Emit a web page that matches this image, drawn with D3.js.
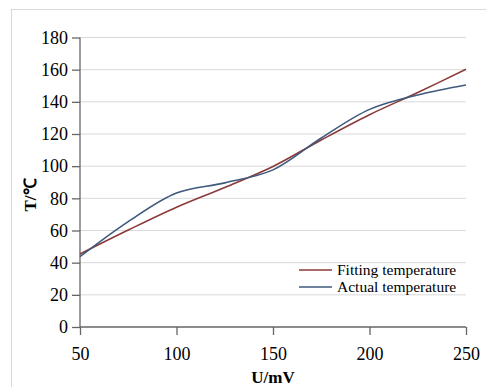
<!DOCTYPE html>
<html><head><meta charset="utf-8">
<script src="https://cdn.jsdelivr.net/npm/d3@7"></script>
<style>body{margin:0;background:#fff}svg{display:block}text{font-family:"Liberation Serif","Times New Roman",serif;fill:#000}</style>
</head><body>
<script>
const voltages = [50, 75, 100, 125, 150, 175, 200, 225, 250];
const fitting = [45.4, 60.3, 74.5, 86.8, 99.8, 116.3, 132.0, 145.8, 160.2];
const actual = [43.7, 65.5, 83.3, 89.6, 97.7, 117.5, 135.3, 144.3, 150.5];
const xTicks = [50, 100, 150, 200, 250];
const yTicks = [0, 20, 40, 60, 80, 100, 120, 140, 160, 180];
const seriesNames = ["Fitting temperature", "Actual temperature"];
const colors = ["#8a3a3a", "#3f5a7d"];

const W = 486, H = 387;
const svg = d3.select("body").append("svg").attr("width", W).attr("height", H);
svg.append("rect").attr("x", 11.5).attr("y", 9.5).attr("width", 490).attr("height", 400)
  .attr("fill", "none").attr("stroke", "#d9d9d9");

const x = d3.scaleLinear().domain([50, 250]).range([80, 466]);
const y = d3.scaleLinear().domain([0, 180]).range([327, 37.5]);

svg.append("g").selectAll("line").data(yTicks.filter(d => d > 0)).join("line")
  .attr("x1", 80).attr("x2", 466).attr("y1", d => y(d)).attr("y2", d => y(d))
  .attr("stroke", "#d9d9d9").attr("stroke-width", 1);

const yAxis = svg.append("g").attr("transform", "translate(80,0)")
  .call(d3.axisLeft(y).tickValues(yTicks).tickSize(8).tickPadding(4));
const xAxis = svg.append("g").attr("transform", "translate(0,327)")
  .call(d3.axisBottom(x).tickValues(xTicks).tickSize(8).tickPadding(12));
[yAxis, xAxis].forEach(g => {
  g.attr("font-family", "Liberation Serif").attr("font-size", 18);
  g.select(".domain").attr("stroke", "#666").attr("stroke-width", 1.3);
  g.selectAll(".tick line").attr("stroke", "#666").attr("stroke-width", 1.3);
  g.selectAll("text").style("font-family", "'Liberation Serif', serif").style("font-size", "18px").attr("fill", "#000");
});
xAxis.select(".domain").attr("d", "M80,0H466");
yAxis.select(".domain").attr("d", "M0,37.5V327");

const line = d3.line().x((d, i) => x(voltages[i])).y(d => y(d)).curve(d3.curveCatmullRom.alpha(0.5));
[fitting, actual].forEach((s, k) => {
  svg.append("path").attr("d", line(s)).attr("fill", "none")
    .attr("stroke", colors[k]).attr("stroke-width", 1.6);
});

svg.append("text").attr("x", 273).attr("y", 383).attr("text-anchor", "middle")
  .style("font-weight", "bold").style("font-size", "17px").text("U/mV");
svg.append("text").attr("transform", "translate(36,195) rotate(-90)").attr("text-anchor", "middle")
  .style("font-weight", "bold").style("font-size", "17px").text("T/℃");

const leg = svg.append("g");
seriesNames.forEach((n, k) => {
  const yy = 270 + k * 17;
  leg.append("line").attr("x1", 299).attr("x2", 332).attr("y1", yy).attr("y2", yy)
    .attr("stroke", colors[k]).attr("stroke-width", 1.6);
  leg.append("text").attr("x", 337).attr("y", yy + 5).style("font-size", "15.5px").text(n);
});
</script>
</body></html>
